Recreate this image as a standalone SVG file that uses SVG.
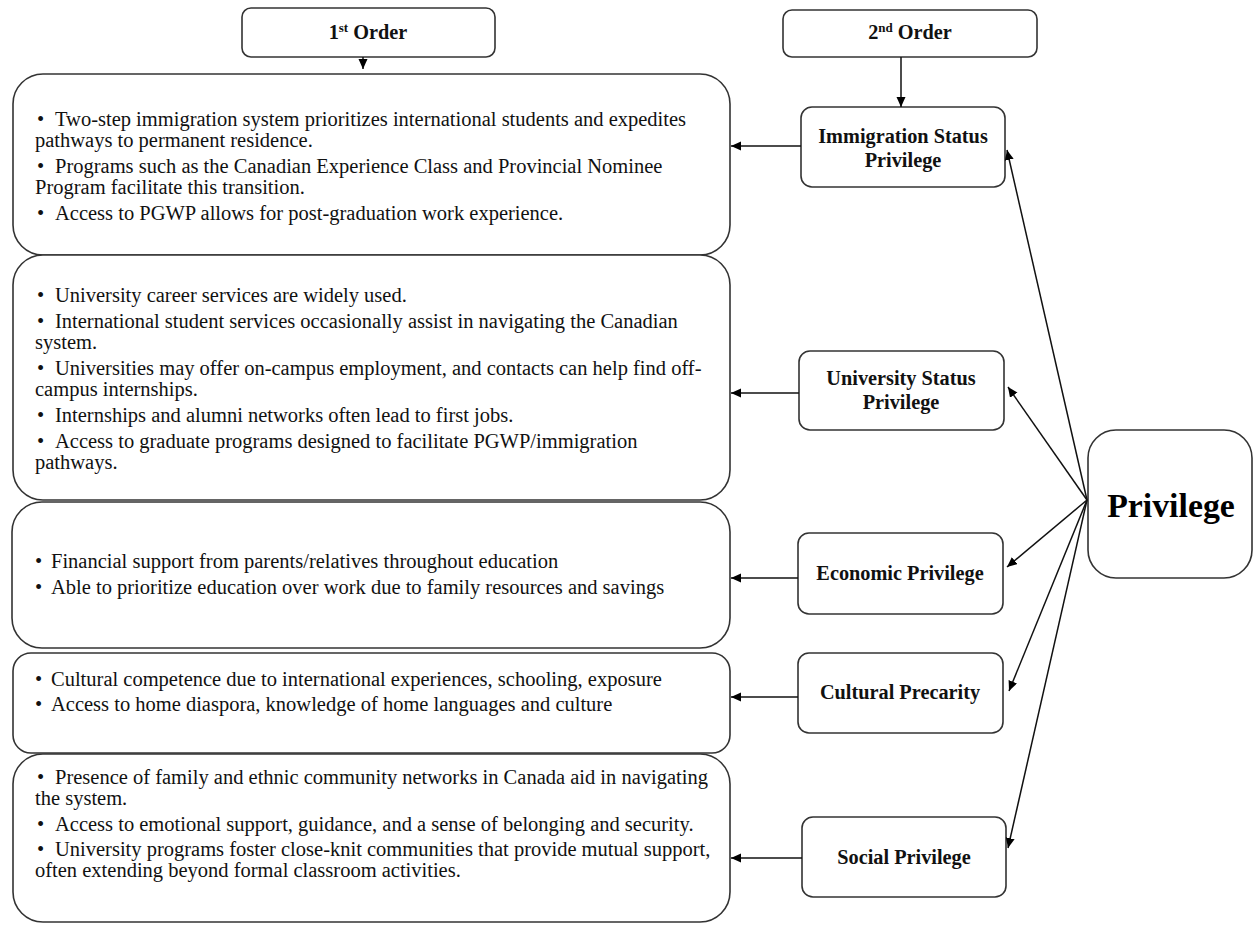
<svg xmlns="http://www.w3.org/2000/svg" width="1254" height="926" viewBox="0 0 1254 926">
<defs>
<marker id="ah" markerUnits="userSpaceOnUse" markerWidth="12" markerHeight="10" refX="10" refY="4.5" orient="auto">
<path d="M0,0 L10,4.5 L0,9 Z" fill="#000"/>
</marker>
<style>
.box{fill:#fff;stroke:#333;stroke-width:1.6}
.body{font-family:"Liberation Serif","Times New Roman",serif;font-size:20.5px;fill:#111}
.lbl{font-family:"Liberation Serif","Times New Roman",serif;font-size:20.3px;font-weight:bold;fill:#111;text-anchor:middle}
.big{font-family:"Liberation Serif","Times New Roman",serif;font-size:33.8px;font-weight:bold;fill:#000;text-anchor:middle}
.con{stroke:#111;stroke-width:1.5;fill:none;marker-end:url(#ah)}
</style>
</defs>
<rect width="1254" height="926" fill="#fff"/>

<g id="header1">
<rect class="box" x="242" y="8" width="253" height="49" rx="9"/>
<text class="lbl" x="368" y="39">1<tspan font-size="13" dy="-7">st</tspan><tspan dy="7"> Order</tspan></text>
</g>
<g id="header2">
<rect class="box" x="783" y="10" width="254" height="47" rx="9"/>
<text class="lbl" x="910" y="39">2<tspan font-size="13" dy="-7">nd</tspan><tspan dy="7"> Order</tspan></text>
</g>

<g id="box-immigration-details">
<rect class="box" x="13" y="74" width="717" height="181" rx="30"/>
<text class="body">
<tspan x="37" y="126">•</tspan><tspan x="55">Two-step immigration system prioritizes international students and expedites</tspan>
<tspan x="35" y="147">pathways to permanent residence.</tspan>
<tspan x="37" y="173">•</tspan><tspan x="55">Programs such as the Canadian Experience Class and Provincial Nominee</tspan>
<tspan x="35" y="194">Program facilitate this transition.</tspan>
<tspan x="37" y="220">•</tspan><tspan x="55">Access to PGWP allows for post-graduation work experience.</tspan>
</text>
</g>

<g id="box-university-details">
<rect class="box" x="13" y="255" width="717" height="245" rx="30"/>
<text class="body">
<tspan x="37" y="302">•</tspan><tspan x="55">University career services are widely used.</tspan>
<tspan x="37" y="328">•</tspan><tspan x="55">International student services occasionally assist in navigating the Canadian</tspan>
<tspan x="35" y="349">system.</tspan>
<tspan x="37" y="375">•</tspan><tspan x="55">Universities may offer on-campus employment, and contacts can help find off-</tspan>
<tspan x="35" y="396">campus internships.</tspan>
<tspan x="37" y="422">•</tspan><tspan x="55">Internships and alumni networks often lead to first jobs.</tspan>
<tspan x="37" y="448">•</tspan><tspan x="55">Access to graduate programs designed to facilitate PGWP/immigration</tspan>
<tspan x="35" y="469">pathways.</tspan>
</text>
</g>

<g id="box-economic-details">
<rect class="box" x="12" y="502" width="718" height="146" rx="30"/>
<text class="body">
<tspan x="35" y="568">•</tspan><tspan x="51">Financial support from parents/relatives throughout education</tspan>
<tspan x="35" y="594">•</tspan><tspan x="51">Able to prioritize education over work due to family resources and savings</tspan>
</text>
</g>

<g id="box-cultural-details">
<rect class="box" x="13" y="653" width="717" height="100" rx="18"/>
<text class="body">
<tspan x="35" y="686">•</tspan><tspan x="51">Cultural competence due to international experiences, schooling, exposure</tspan>
<tspan x="35" y="711">•</tspan><tspan x="51">Access to home diaspora, knowledge of home languages and culture</tspan>
</text>
</g>

<g id="box-social-details">
<rect class="box" x="13" y="754" width="717" height="168" rx="30"/>
<text class="body">
<tspan x="37" y="784">•</tspan><tspan x="55">Presence of family and ethnic community networks in Canada aid in navigating</tspan>
<tspan x="35" y="805">the system.</tspan>
<tspan x="37" y="831">•</tspan><tspan x="55">Access to emotional support, guidance, and a sense of belonging and security.</tspan>
<tspan x="37" y="856">•</tspan><tspan x="55">University programs foster close-knit communities that provide mutual support,</tspan>
<tspan x="35" y="877">often extending beyond formal classroom activities.</tspan>
</text>
</g>

<g id="node-immigration">
<rect class="box" x="801" y="107" width="204" height="80" rx="11"/>
<text class="lbl" x="903" y="143">Immigration Status</text>
<text class="lbl" x="903" y="167">Privilege</text>
</g>
<g id="node-university">
<rect class="box" x="799" y="351" width="205" height="79" rx="11"/>
<text class="lbl" x="901" y="385">University Status</text>
<text class="lbl" x="901" y="409">Privilege</text>
</g>
<g id="node-economic">
<rect class="box" x="798" y="533" width="205" height="81" rx="11"/>
<text class="lbl" x="900" y="580">Economic Privilege</text>
</g>
<g id="node-cultural">
<rect class="box" x="798" y="653" width="205" height="80" rx="11"/>
<text class="lbl" x="900" y="699">Cultural Precarity</text>
</g>
<g id="node-social">
<rect class="box" x="802" y="817" width="204" height="80" rx="11"/>
<text class="lbl" x="904" y="864">Social Privilege</text>
</g>
<g id="node-privilege">
<rect class="box" x="1088" y="430" width="164" height="148" rx="28"/>
<text class="big" x="1171" y="517">Privilege</text>
</g>

<g id="connectors">
<line class="con" x1="363" y1="57" x2="363" y2="69"/>
<line class="con" x1="901" y1="57" x2="901" y2="107"/>
<line class="con" x1="801" y1="146" x2="731" y2="146"/>
<line class="con" x1="799" y1="393" x2="731" y2="393"/>
<line class="con" x1="798" y1="578" x2="731" y2="578"/>
<line class="con" x1="798" y1="697" x2="731" y2="697"/>
<line class="con" x1="802" y1="858" x2="731" y2="858"/>
<line class="con" x1="1087" y1="500" x2="1007" y2="150"/>
<line class="con" x1="1087" y1="500" x2="1008" y2="387"/>
<line class="con" x1="1087" y1="500" x2="1007" y2="567"/>
<line class="con" x1="1087" y1="500" x2="1009" y2="691"/>
<line class="con" x1="1087" y1="500" x2="1008" y2="848"/>
</g>
</svg>
